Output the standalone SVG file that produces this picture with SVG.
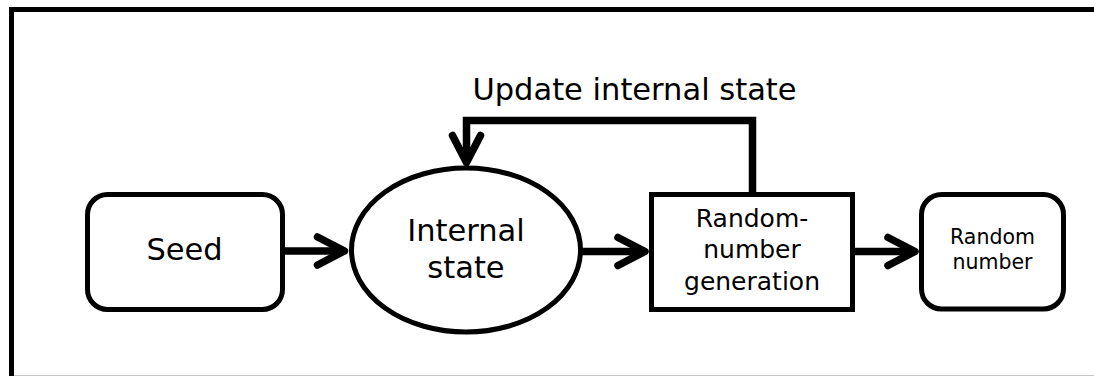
<svg xmlns="http://www.w3.org/2000/svg" width="1094" height="376" viewBox="0 0 1094 376">
<style>
.frame{fill:none;stroke:#000;stroke-width:5}
.node{fill:#fff;stroke:#000;stroke-width:5}
.conn{fill:none;stroke:#000;stroke-width:7.5;stroke-linejoin:miter}
.t{font-family:"DejaVu Sans","Noto Sans",sans-serif;fill:#000;text-anchor:middle}
</style>
<defs>
<marker id="chev" markerUnits="userSpaceOnUse" viewBox="-36 -22 44 44" refX="0" refY="0" markerWidth="44" markerHeight="44" orient="auto" overflow="visible">
<path d="M -27 -14 L 0 0 L -27 14" fill="none" stroke="#000" stroke-width="7.5" stroke-linecap="round" stroke-linejoin="round"/>
</marker>
</defs>
<rect x="0" y="0" width="1094" height="376" fill="#fff"/>
<rect class="frame" x="11.5" y="9.5" width="1100" height="400"/>
<line x1="14" y1="375.5" x2="1094" y2="375.5" stroke="#c8c8c8" stroke-width="1"/>
<g id="connectors">
<path class="conn" d="M 285 251 H 344.5" marker-end="url(#chev)"/>
<path class="conn" d="M 582 251.5 H 645" marker-end="url(#chev)"/>
<path class="conn" d="M 855 251.5 H 915" marker-end="url(#chev)"/>
<path class="conn" d="M 752.5 194 V 120.5 H 466.5 V 162.5" stroke-width="7" marker-end="url(#chev)"/>
<text class="t" x="634.5" y="100" font-size="30.5">Update internal state</text>
</g>
<g id="seed">
<rect class="node" x="87.5" y="194.5" width="195" height="115" rx="20"/>
<text class="t" x="184.5" y="260" font-size="30.5">Seed</text>
</g>
<g id="internal-state">
<ellipse class="node" cx="466" cy="250" rx="114.5" ry="82"/>
<text class="t" x="466" y="241" font-size="30.5">Internal</text>
<text class="t" x="466" y="278" font-size="30.5">state</text>
</g>
<g id="rng">
<rect class="node" x="651.5" y="194.5" width="201" height="115"/>
<text class="t" x="752" y="226.5" font-size="25">Random-</text>
<text class="t" x="752" y="258" font-size="25">number</text>
<text class="t" x="752" y="290" font-size="25">generation</text>
</g>
<g id="random-number">
<rect class="node" x="921.5" y="194.5" width="142" height="114.5" rx="20"/>
<text class="t" x="992.5" y="244.3" font-size="20.5">Random</text>
<text class="t" x="992.5" y="269.3" font-size="20.5">number</text>
</g>
</svg>
